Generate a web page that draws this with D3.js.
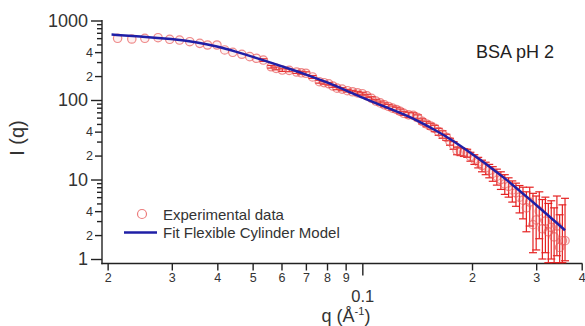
<!DOCTYPE html>
<html>
<head>
<meta charset="utf-8">
<script src="https://cdn.jsdelivr.net/npm/d3@7"></script>
<style>
  body { margin: 0; background: #fff; }
  text { font-family: "Liberation Sans", Arial, sans-serif; }
</style>
</head>
<body>
<script>
// experimental points: q, intensity, error bar bounds (null = no bar)
var qExp = [0.0213, 0.0233, 0.0253, 0.0275, 0.0296, 0.0315, 0.0336, 0.0358, 0.0376, 0.0399, 0.0419, 0.0441, 0.0467, 0.0491, 0.0512,
  0.0535, 0.0562, 0.0580, 0.0603, 0.0630, 0.0660, 0.0680, 0.0700, 0.0730, 0.0762, 0.0785, 0.0809, 0.0830, 0.0852, 0.0880,
  0.0910, 0.0940, 0.0970, 0.1000, 0.1030, 0.1060, 0.1090, 0.1120, 0.1150, 0.1180, 0.1210, 0.1240, 0.1270, 0.1300,
  0.134, 0.138, 0.142, 0.146, 0.150, 0.154, 0.158, 0.162, 0.166, 0.170, 0.174, 0.178, 0.182, 0.186, 0.190, 0.194, 0.198,
  0.203, 0.208, 0.213, 0.218, 0.223, 0.228, 0.234, 0.240, 0.246, 0.252, 0.258, 0.264, 0.270, 0.276, 0.282, 0.288, 0.294,
  0.300, 0.306, 0.312, 0.318, 0.324, 0.330, 0.336, 0.342, 0.348, 0.354, 0.360];
var iExp = [597, 585, 597, 608, 580, 568, 541, 516, 492, 492, 426, 398, 376, 351, 335,
  318, 262, 250, 238, 236, 225, 220, 217, 195, 170, 165, 160, 150, 141, 137,
  131, 127, 123, 120, 113, 105, 97, 92, 87, 83, 79, 76, 72, 68,
  65, 64, 60, 54, 50, 47, 44, 40, 37, 34, 30, 27, 23, 22.5, 22, 21.5, 19.5,
  18, 16.5, 15, 14, 13, 12, 11, 10, 8.8, 8.2, 7.4, 6.8, 6.0, 5.5, 4.4, 5.2, 2.7,
  3.1, 4.0, 2.4, 3.0, 2.2, 2.5, 1.9, 2.6, 1.4, 1.7, 1.7];
var iLow = [null, null, null, null, null, null, null, null, null, null, null, null, null, null, null,
  306, 252, 240, 229, 227, 216, 211, 208, 187, 163, 158, 154, 144, 135, 131,
  126, 122, 118, 115, 108, 100, 92, 87, 82, 78, 74, 71, 67, 64,
  60, 59, 55, 50, 46, 43, 40, 36, 33, 31, 27, 24, 20.5, 20, 19.5, 19, 17,
  15.5, 14, 12.5, 11.5, 10.5, 9.5, 8.5, 7.5, 6.5, 6, 5.2, 4.6, 3.8, 3.2, 2.2, 2.6, 1.2,
  1.3, 1.8, 1.0, 1.2, 0.9, 1.0, 0.9, 1.1, 0.9, 0.9, 0.95];
var iHigh = [null, null, null, null, null, null, null, null, null, null, null, null, null, null, null,
  330, 272, 260, 247, 245, 234, 229, 226, 203, 177, 172, 166, 156, 147, 143,
  136, 132, 128, 125, 118, 110, 102, 97, 92, 88, 84, 81, 77, 72,
  70, 69, 65, 58, 54, 51, 48, 44, 41, 37, 33, 30, 25.5, 25, 24.5, 24, 22,
  20.5, 19, 17.5, 16.5, 15.5, 14.5, 13.5, 12.5, 11.5, 10.5, 9.6, 9, 8.4, 8, 7.0, 8.0, 6.7,
  6.2, 7.0, 5.6, 6.0, 5.0, 5.4, 4.4, 6.2, 3.6, 4.8, 5.8];

// fitted model curve
var qFit = [0.0205, 0.025, 0.03, 0.035, 0.04, 0.045, 0.05, 0.056, 0.063, 0.071, 0.08, 0.09, 0.1, 0.112, 0.125, 0.14,
  0.16, 0.18, 0.2, 0.22, 0.25, 0.286, 0.32, 0.36];
var iFit = [665, 628, 585, 535, 472, 405, 350, 295, 248, 205, 167, 133, 107, 87, 71, 57,
  41, 29.5, 21, 15.4, 9.8, 5.8, 3.7, 2.3];

// tick values and labels
var yMajor = [1, 10, 100, 1000];
var yMajorLabels = ["1", "10", "100", "1000"];
var yMinorLabeled = [2, 4, 20, 40, 200, 400];
var yMinorLabels = ["2", "4", "2", "4", "2", "4"];
var yMinor = [3, 5, 6, 7, 8, 9, 30, 50, 60, 70, 80, 90, 300, 500, 600, 700, 800, 900];
var xMinor = [0.02, 0.03, 0.04, 0.05, 0.06, 0.07, 0.08, 0.09, 0.2, 0.3, 0.4];
var xMinorLabels = ["2", "3", "4", "5", "6", "7", "8", "9", "2", "3", "4"];
var xMajor = [0.1];
var xMajorLabels = ["0.1"];

var width = 585, height = 326;
var svg = d3.select("body").append("svg")
  .attr("width", width)
  .attr("height", height);

var x = d3.scaleLog().domain([0.0193, 0.4]).range([102, 581.7]);
var y = d3.scaleLog().domain([0.878, 1000]).range([263.5, 20.5]);

function tidy(g, size) {
  g.select(".domain").remove();
  g.selectAll("line").attr("stroke", "#222").attr("stroke-width", 1.4);
  g.selectAll("text")
    .attr("fill", "#333")
    .attr("font-family", "'Liberation Sans', Arial, sans-serif")
    .attr("font-size", size + "px");
}

// y axis
svg.append("g").attr("transform", "translate(102,0)")
  .call(d3.axisLeft(y).tickValues(yMinor).tickSize(5).tickFormat(""))
  .call(tidy, 12);
svg.append("g").attr("transform", "translate(102,0)")
  .call(d3.axisLeft(y).tickValues(yMinorLabeled).tickSize(7).tickPadding(2)
    .tickFormat(function(d, i) { return yMinorLabels[i]; }))
  .call(tidy, 12.5);
svg.append("g").attr("transform", "translate(102,0)")
  .call(d3.axisLeft(y).tickValues(yMajor).tickSize(11).tickPadding(3)
    .tickFormat(function(d, i) { return yMajorLabels[i]; }))
  .call(tidy, 18);

// x axis
svg.append("g").attr("transform", "translate(0,263.5)")
  .call(d3.axisBottom(x).tickValues(xMinor).tickSize(7).tickPadding(3)
    .tickFormat(function(d, i) { return xMinorLabels[i]; }))
  .call(tidy, 12.5);
svg.append("g").attr("transform", "translate(0,263.5)")
  .call(d3.axisBottom(x).tickValues(xMajor).tickSize(12).tickPadding(15)
    .tickFormat(function(d, i) { return xMajorLabels[i]; }))
  .call(tidy, 16.5);

// axis lines
svg.append("line").attr("x1", 102).attr("x2", 102).attr("y1", 20).attr("y2", 264.2)
  .attr("stroke", "#222").attr("stroke-width", 1.4);
svg.append("line").attr("x1", 101.3).attr("x2", 582.4).attr("y1", 263.5).attr("y2", 263.5)
  .attr("stroke", "#222").attr("stroke-width", 1.4);

// axis titles
svg.append("text")
  .attr("transform", "translate(24,138) rotate(-90)")
  .attr("text-anchor", "middle")
  .attr("font-size", "20px")
  .attr("fill", "#333")
  .text("I (q)");

var xt = svg.append("text")
  .attr("x", 346).attr("y", 322)
  .attr("text-anchor", "middle")
  .attr("font-size", "18px")
  .attr("fill", "#333");
xt.append("tspan").text("q (Å");
xt.append("tspan").attr("font-size", "11px").attr("dy", -7).text("-1");
xt.append("tspan").attr("dy", 7).text(")");

// annotation
svg.append("text")
  .attr("x", 476).attr("y", 58)
  .attr("font-size", "18px")
  .attr("fill", "#222")
  .text("BSA pH 2");

var pts = qExp.map(function(q, i) { return {q: q, v: iExp[i], lo: iLow[i], hi: iHigh[i]}; });
var bars = pts.filter(function(d) { return d.lo != null; });
var yMin = y.domain()[0];

// error bars
var eb = svg.append("g").attr("stroke", "#e52222").attr("stroke-width", 1.2);
eb.selectAll(".v").data(bars).enter().append("line")
  .attr("x1", function(d) { return x(d.q); })
  .attr("x2", function(d) { return x(d.q); })
  .attr("y1", function(d) { return y(Math.max(d.lo, yMin)); })
  .attr("y2", function(d) { return y(d.hi); });
eb.selectAll(".lo").data(bars).enter().append("line")
  .attr("x1", function(d) { return x(d.q) - 4; })
  .attr("x2", function(d) { return x(d.q) + 4; })
  .attr("y1", function(d) { return y(Math.max(d.lo, yMin)); })
  .attr("y2", function(d) { return y(Math.max(d.lo, yMin)); });
eb.selectAll(".hi").data(bars).enter().append("line")
  .attr("x1", function(d) { return x(d.q) - 4; })
  .attr("x2", function(d) { return x(d.q) + 4; })
  .attr("y1", function(d) { return y(d.hi); })
  .attr("y2", function(d) { return y(d.hi); });

// experimental circles
svg.append("g").selectAll("circle")
  .data(pts).enter().append("circle")
  .attr("cx", function(d) { return x(d.q); })
  .attr("cy", function(d) { return y(d.v); })
  .attr("r", 4.2)
  .attr("fill", "rgba(240,140,140,0.12)")
  .attr("stroke", "rgba(230,80,80,0.65)")
  .attr("stroke-width", 1.2);

// fit curve
var line = d3.line()
  .x(function(d, i) { return x(qFit[i]); })
  .y(function(d) { return y(d); })
  .curve(d3.curveBasis);
svg.append("path")
  .attr("d", line(iFit))
  .attr("fill", "none")
  .attr("stroke", "#1f1fa6")
  .attr("stroke-width", 2.5);

// legend
svg.append("circle").attr("cx", 142).attr("cy", 214).attr("r", 4.5)
  .attr("fill", "none").attr("stroke", "rgba(230,80,80,0.75)").attr("stroke-width", 1.2);
svg.append("text").attr("x", 163).attr("y", 219.5)
  .attr("font-size", "15px").attr("fill", "#333").text("Experimental data");
svg.append("line").attr("x1", 124).attr("x2", 157).attr("y1", 232.5).attr("y2", 232.5)
  .attr("stroke", "#1f1fa6").attr("stroke-width", 2.5);
svg.append("text").attr("x", 163).attr("y", 238)
  .attr("font-size", "15px").attr("fill", "#333").text("Fit Flexible Cylinder Model");
</script>
</body>
</html>
